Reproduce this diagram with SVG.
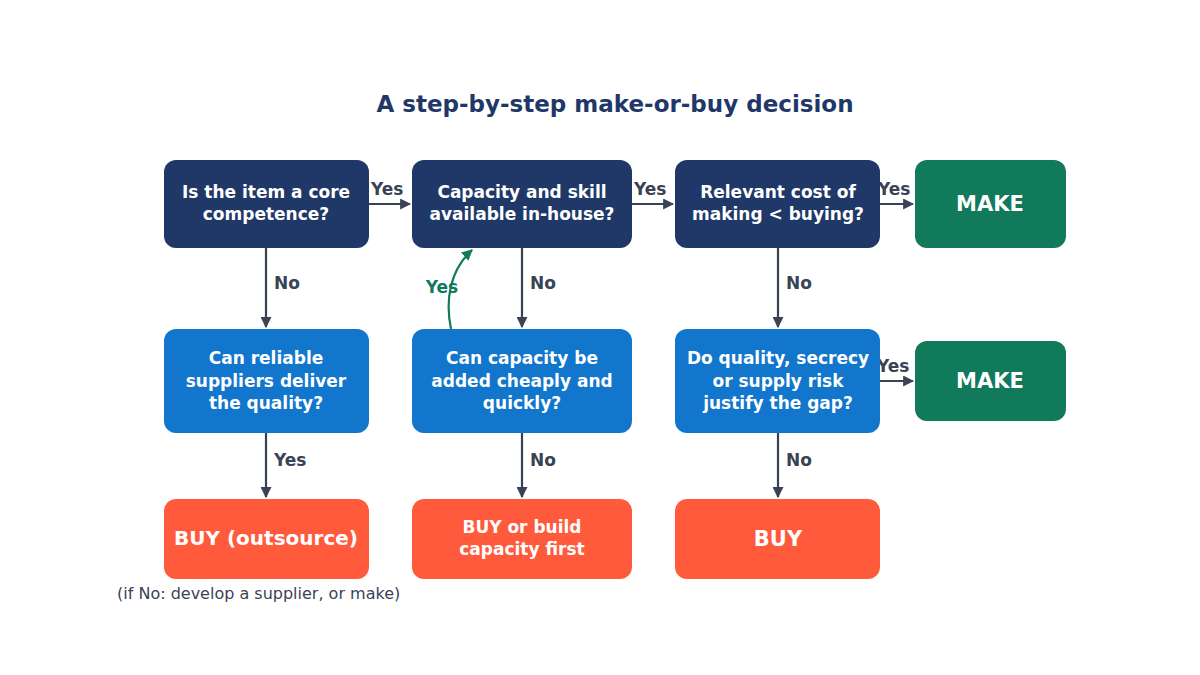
<svg xmlns="http://www.w3.org/2000/svg" width="1200" height="675" viewBox="0 0 1200 675">
<style>
text{font-family:"DejaVu Sans","Liberation Sans",sans-serif;font-weight:bold;text-anchor:middle}
.w{fill:#fff;font-size:17px}
.big{fill:#fff;font-size:21px}
.lb{fill:#3a4256;font-size:17px;text-anchor:start}
.c{stroke:#3a4256;stroke-width:2.2;fill:none;marker-end:url(#a)}
.navy{fill:#1f3868}.blue{fill:#1176cc}.green{fill:#117a5a}.or{fill:#ff5a3c}
</style>
<defs>
<marker id="a" viewBox="0 0 10 10" refX="9" refY="5" markerWidth="5" markerHeight="5" orient="auto"><path d="M0,0L10,5L0,10z" fill="#3a4256"/></marker>
<marker id="g" viewBox="0 0 10 10" refX="9" refY="5" markerWidth="5" markerHeight="5" orient="auto"><path d="M0,0L10,5L0,10z" fill="#117a5a"/></marker>
</defs>
<rect width="1200" height="675" fill="#fff"/>
<text x="615" y="112" style="font-size:23px;fill:#1f3868">A step-by-step make-or-buy decision</text>
<g id="connectors">
<path class="c" d="M369,204H410"/><path class="c" d="M632,204H673"/><path class="c" d="M880,204H913"/>
<path class="c" d="M266,248V327"/><path class="c" d="M522,248V327"/><path class="c" d="M778,248V327"/>
<path class="c" d="M880,381H913"/>
<path class="c" d="M266,433V497"/><path class="c" d="M522,433V497"/><path class="c" d="M778,433V497"/>
<path d="M451,329C445,300 450,270 472,250" stroke="#117a5a" stroke-width="2.2" fill="none" marker-end="url(#g)"/>
<text class="lb" x="371" y="195">Yes</text><text class="lb" x="634" y="195">Yes</text><text class="lb" x="878" y="195">Yes</text>
<text class="lb" x="274" y="289">No</text><text class="lb" x="530" y="289">No</text><text class="lb" x="786" y="289">No</text>
<text class="lb" x="877" y="372">Yes</text>
<text class="lb" x="274" y="466">Yes</text><text class="lb" x="530" y="466">No</text><text class="lb" x="786" y="466">No</text>
<text x="442" y="293" style="font-size:17px;fill:#117a5a">Yes</text>
</g>
<g id="n1"><rect class="navy" x="164" y="160" width="205" height="88" rx="12"/><text class="w" x="266" y="198">Is the item a core</text><text class="w" x="266" y="220">competence?</text></g>
<g id="n2"><rect class="navy" x="412" y="160" width="220" height="88" rx="12"/><text class="w" x="522" y="198">Capacity and skill</text><text class="w" x="522" y="220">available in-house?</text></g>
<g id="n3"><rect class="navy" x="675" y="160" width="205" height="88" rx="12"/><text class="w" x="778" y="198">Relevant cost of</text><text class="w" x="778" y="220">making &lt; buying?</text></g>
<g id="n4"><rect class="green" x="915" y="160" width="151" height="88" rx="12"/><text class="big" x="990" y="211">MAKE</text></g>
<g id="n5"><rect class="blue" x="164" y="329" width="205" height="104" rx="12"/><text class="w" x="266" y="364">Can reliable</text><text class="w" x="266" y="387">suppliers deliver</text><text class="w" x="266" y="409">the quality?</text></g>
<g id="n6"><rect class="blue" x="412" y="329" width="220" height="104" rx="12"/><text class="w" x="522" y="364">Can capacity be</text><text class="w" x="522" y="387">added cheaply and</text><text class="w" x="522" y="409">quickly?</text></g>
<g id="n7"><rect class="blue" x="675" y="329" width="205" height="104" rx="12"/><text class="w" x="778" y="364">Do quality, secrecy</text><text class="w" x="778" y="387">or supply risk</text><text class="w" x="778" y="409">justify the gap?</text></g>
<g id="n8"><rect class="green" x="915" y="341" width="151" height="80" rx="12"/><text class="big" x="990" y="388">MAKE</text></g>
<g id="n9"><rect class="or" x="164" y="499" width="205" height="80" rx="12"/><text class="w" x="266" y="545" style="font-size:20px">BUY (outsource)</text></g>
<g id="n10"><rect class="or" x="412" y="499" width="220" height="80" rx="12"/><text class="w" x="522" y="533">BUY or build</text><text class="w" x="522" y="555">capacity first</text></g>
<g id="n11"><rect class="or" x="675" y="499" width="205" height="80" rx="12"/><text class="big" x="778" y="546">BUY</text></g>
<text x="117" y="599" style="font-weight:normal;text-anchor:start;font-size:16px;fill:#3a4256">(if No: develop a supplier, or make)</text>
</svg>
